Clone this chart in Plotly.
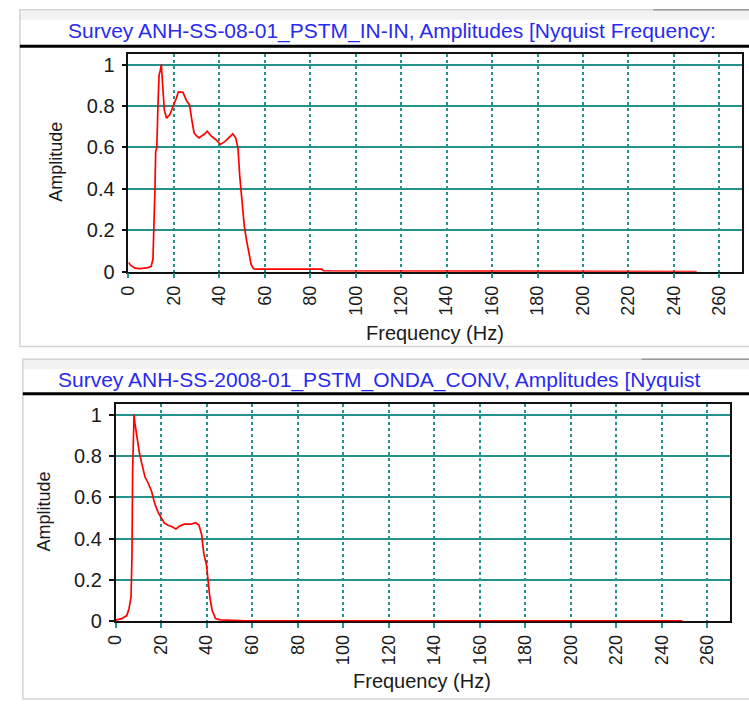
import plotly.graph_objects as go

# Amplitude spectrum, survey ANH-SS-08-01 (PSTM IN-IN)
freq_in = [0, 1, 3, 5, 8, 10, 10.8, 11.3, 11.7, 12.0, 12.5, 13.0, 13.5, 14.0, 14.5,
           14.9, 15.3, 15.8, 16.8, 17.5, 18.2, 19.2, 20.0, 21.0, 22.0, 23.0, 24.0,
           25.4, 26.9, 28.0, 28.9, 30.0, 31.1, 32.2, 33.3, 34.7, 36.5, 38.4, 40.5,
           42.7, 44.6, 45.9, 47.2, 48.2, 49.0, 50.0, 51.0, 52.0, 53.0, 54.0, 55.0,
           56, 60, 70, 85, 86, 100, 120, 145, 146, 200, 238, 240, 244, 248, 250]
amp_in = [0.045, 0.03, 0.017, 0.015, 0.018, 0.025, 0.06, 0.2, 0.4, 0.58, 0.6, 0.8, 0.95,
          0.97, 1.0, 0.93, 0.85, 0.78, 0.741, 0.75, 0.757, 0.785, 0.805, 0.835, 0.868,
          0.868, 0.866, 0.829, 0.805, 0.726, 0.67, 0.655, 0.646, 0.655, 0.662, 0.678,
          0.654, 0.638, 0.614, 0.63, 0.654, 0.665, 0.646, 0.598, 0.46, 0.33, 0.22, 0.15,
          0.09, 0.035, 0.015, 0.012, 0.012, 0.012, 0.012, 0.004, 0.004, 0.004, 0.004,
          0.001, 0.001, 0.001, 0.004, 0.003, 0.004, 0.001]

# Amplitude spectrum, survey ANH-SS-2008-01 (PSTM ONDA CONV)
freq_conv = [0, 2.7, 4.9, 5.9, 6.8, 7.2, 7.5, 8.1, 8.5, 8.9, 9.5, 10.4, 11.4, 12.9, 14.3,
             15.8, 17.2, 18.6, 20.1, 21.5, 23.0, 24.4, 26.5, 28.0, 30.2, 33.0, 35.2, 36.6,
             37.8, 38.8, 39.9, 40.5, 41.4, 42.4, 43.9, 46.0, 50, 55, 57, 100, 150, 200, 249]
amp_conv = [0.005, 0.012, 0.027, 0.06, 0.117, 0.31, 0.73, 1.0, 0.96, 0.93, 0.88, 0.82,
            0.77, 0.70, 0.67, 0.63, 0.57, 0.53, 0.50, 0.475, 0.465, 0.46, 0.447, 0.46,
            0.47, 0.47, 0.477, 0.466, 0.42, 0.324, 0.275, 0.204, 0.117, 0.053, 0.013,
            0.006, 0.004, 0.003, 0.001, 0.001, 0.001, 0.001, 0.001]

titles = ["Survey ANH-SS-08-01_PSTM_IN-IN, Amplitudes [Nyquist Frequency:",
          "Survey ANH-SS-2008-01_PSTM_ONDA_CONV, Amplitudes [Nyquist"]
x_ticks = list(range(0, 261, 20))
y_ticks = [0, 0.2, 0.4, 0.6, 0.8, 1]
y_tick_text = ["0", "0.2", "0.4", "0.6", "0.8", "1"]

W, H = 749, 704
TEAL = "#23918c"
FONT = "Liberation Sans, Arial, sans-serif"
TXT = "#1a1a1a"


def fx(px):
    return px / W


def fy(py):
    return 1 - py / H


fig = go.Figure()
fig.add_trace(go.Scatter(x=freq_in, y=amp_in, mode="lines",
                         line=dict(color="#ff0000", width=1.7),
                         xaxis="x", yaxis="y", showlegend=False))
fig.add_trace(go.Scatter(x=freq_conv, y=amp_conv, mode="lines",
                         line=dict(color="#ff0000", width=1.7),
                         xaxis="x2", yaxis="y2", showlegend=False))


def xaxis_style(domain, anchor):
    return dict(domain=domain, anchor=anchor, range=[0, 270],
                tickmode="array", tickvals=x_ticks, tickangle=-90,
                ticks="outside", ticklen=5, tickwidth=2, tickcolor=TEAL,
                tickfont=dict(family=FONT, size=18, color=TXT),
                showgrid=True, gridcolor=TEAL, gridwidth=2, griddash="dot",
                showline=True, linecolor="#111111", linewidth=1.5, mirror=True,
                zeroline=False, layer="below traces")


def yaxis_style(domain, anchor, top):
    return dict(domain=domain, anchor=anchor, range=[0, top],
                tickmode="array", tickvals=y_ticks, ticktext=y_tick_text,
                ticks="outside", ticklen=5, tickwidth=1.5, tickcolor="#111111",
                ticklabelstandoff=3,
                tickfont=dict(family=FONT, size=20, color=TXT),
                showgrid=True, gridcolor=TEAL, gridwidth=1.5,
                showline=True, linecolor="#111111", linewidth=1.5, mirror=True,
                zeroline=False, layer="below traces")


layout = dict(
    width=W, height=H, margin=dict(l=0, r=0, t=0, b=0),
    paper_bgcolor="white", plot_bgcolor="white",
    xaxis=xaxis_style([fx(120), fx(742)], "y"),
    yaxis=yaxis_style([fy(276), fy(55)], "x", 1.05),
    xaxis2=xaxis_style([fx(107), fx(730)], "y2"),
    yaxis2=yaxis_style([fy(631), fy(410)], "x2", 1.055),
)
fig.update_layout(**layout)

shapes = []
# window frames around each panel
for (x0, y0, y1, dark_from) in [(10, 10, 352, 652), (13, 365, 710, 640)]:
    shapes.append(dict(type="rect", xref="paper", yref="paper",
                       x0=fx(x0), x1=fx(W + 5), y0=fy(y0), y1=fy(y0 + 10),
                       fillcolor="#f2f2f2", line=dict(width=0), layer="below"))
    shapes.append(dict(type="rect", xref="paper", yref="paper",
                       x0=fx(x0), x1=fx(W + 5), y0=fy(y0), y1=fy(y1),
                       fillcolor="rgba(0,0,0,0)",
                       line=dict(color="#d4d4d4", width=1.5), layer="below"))
    shapes.append(dict(type="line", xref="paper", yref="paper",
                       x0=fx(dark_from), x1=fx(W), y0=fy(y0), y1=fy(y0),
                       line=dict(color="#9a9a9a", width=1.5)))
# heavy rule under each title
for (x0, y) in [(10, 47), (13, 400)]:
    shapes.append(dict(type="line", xref="paper", yref="paper",
                       x0=fx(x0), x1=fx(W), y0=fy(y), y1=fy(y),
                       line=dict(color="#000000", width=3)))
fig.update_layout(shapes=shapes)

annotations = []
for (title, cx, cy) in [(titles[0], 387, 32), (titles[1], 374, 386)]:
    annotations.append(dict(text=title, xref="paper", yref="paper",
                            x=fx(cx), y=fy(cy), xanchor="center", yanchor="middle",
                            showarrow=False,
                            font=dict(family=FONT, size=21, color="#2a2af0")))
for (cx, cy) in [(431, 338), (418, 692)]:
    annotations.append(dict(text="Frequency (Hz)", xref="paper", yref="paper",
                            x=fx(cx), y=fy(cy), xanchor="center", yanchor="middle",
                            showarrow=False,
                            font=dict(family=FONT, size=20, color=TXT)))
for (cx, cy) in [(47, 164), (34, 520)]:
    annotations.append(dict(text="Amplitude", xref="paper", yref="paper",
                            x=fx(cx), y=fy(cy), xanchor="center", yanchor="middle",
                            textangle=-90, showarrow=False,
                            font=dict(family=FONT, size=18, color=TXT)))
fig.update_layout(annotations=annotations)

fig.write_html("out.html")
